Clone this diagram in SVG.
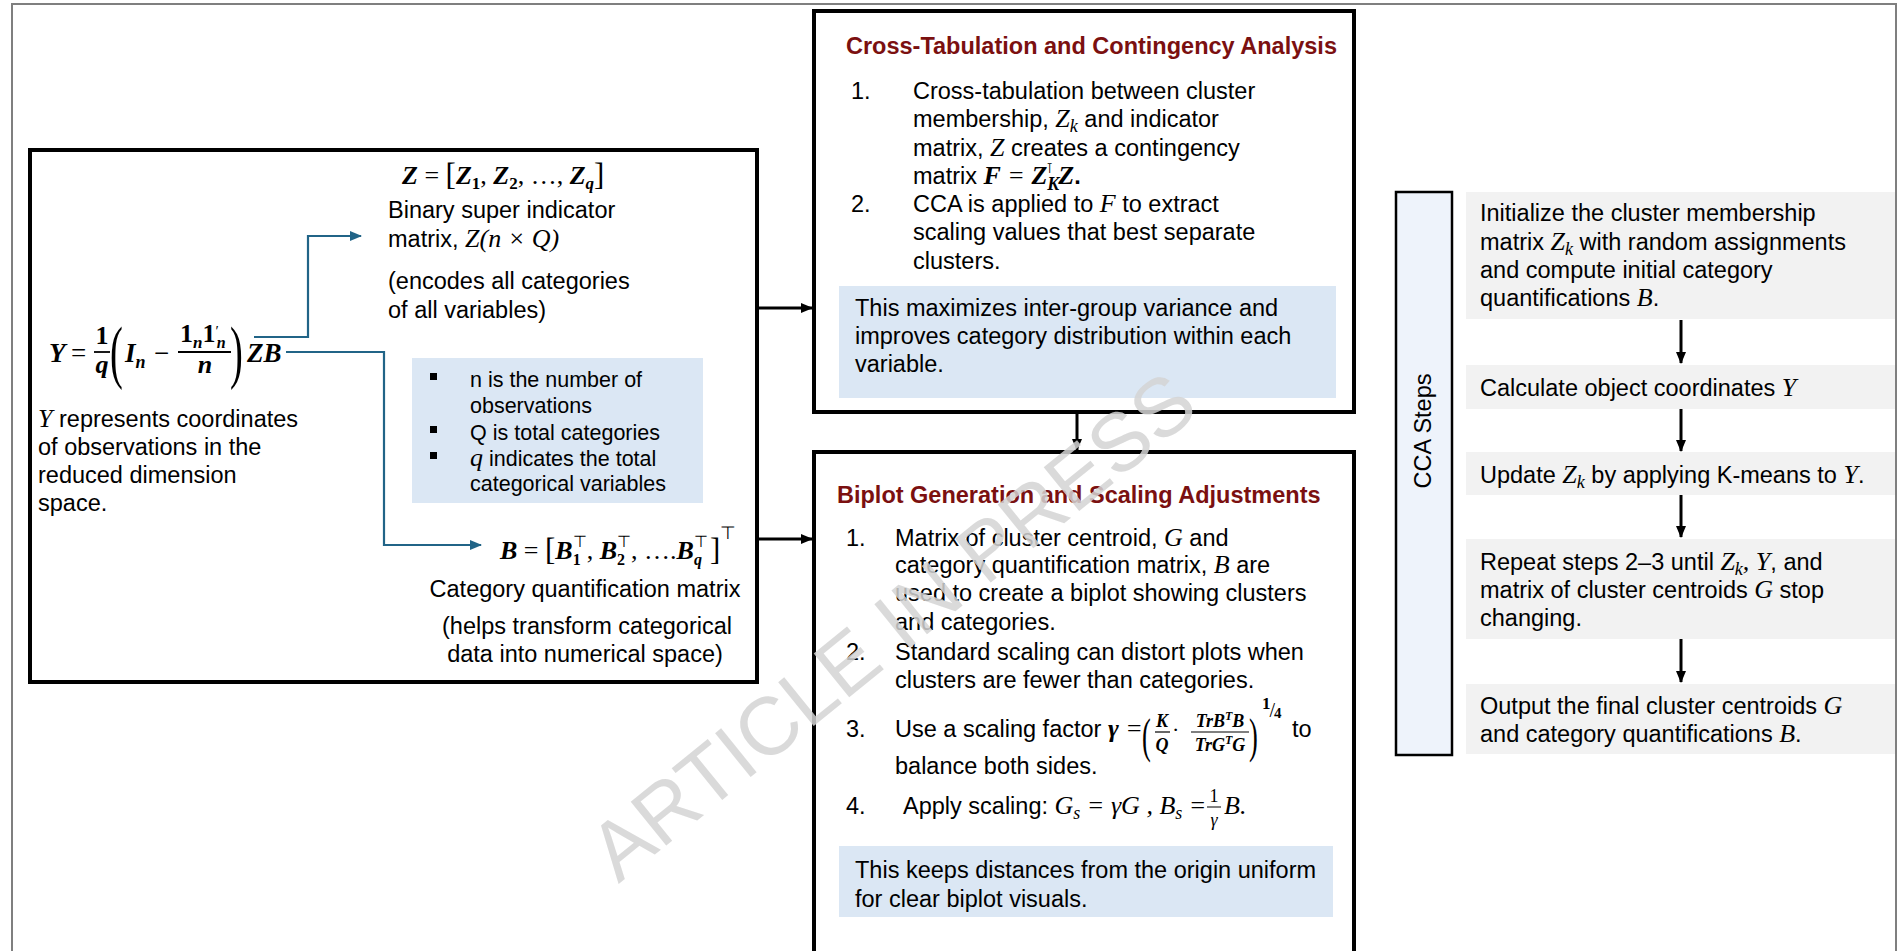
<svg xmlns="http://www.w3.org/2000/svg" width="1902" height="951" viewBox="0 0 1902 951">
<defs>
<style>
.t{font-family:"Liberation Sans",Arial,sans-serif;font-size:23.5px;fill:#000}
.b{font-size:21.5px}
.h{font-weight:bold;fill:#7b1010}
.m{font-family:"Liberation Serif","Times New Roman",serif;font-style:italic}
.mb{font-family:"Liberation Serif","Times New Roman",serif;font-style:italic;font-weight:bold}
.mr{font-family:"Liberation Serif","Times New Roman",serif;font-style:normal;font-weight:normal}
.mn{font-family:"Liberation Serif","Times New Roman",serif;font-style:normal;font-weight:bold}
.mi{font-family:"Liberation Serif","Times New Roman",serif;font-style:italic;font-size:26px}
.sub{font-size:18px}
.box{fill:#fff;stroke:#000;stroke-width:4}
.note{fill:#dbe7f4}
.step{fill:#f2f2f2}
.blk{stroke:#000;stroke-width:3;fill:none}
.blu{stroke:#216487;stroke-width:2.2;fill:none}
</style>
<marker id="ah" markerUnits="userSpaceOnUse" markerWidth="12" markerHeight="10" refX="11" refY="5" orient="auto"><path d="M0,0 L12,5 L0,10 z" fill="#000"/></marker>
<marker id="ahb" markerUnits="userSpaceOnUse" markerWidth="12" markerHeight="10" refX="11" refY="5" orient="auto"><path d="M0,0 L12,5 L0,10 z" fill="#216487"/></marker>
</defs>
<rect x="0" y="0" width="1902" height="951" fill="#fff"/>
<rect x="12" y="4" width="1884" height="980" fill="none" stroke="#7f7f7f" stroke-width="2"/>

<g id="node-left">
<rect x="30" y="150" width="727" height="532" class="box"/>
<g id="eq-y">
<text x="49" y="362" class="mb" font-size="27">Y</text>
<text x="71" y="362" class="mr" font-size="27">=</text>
<text class="mb" font-size="26" text-anchor="middle"><tspan x="102" y="344" class="mn">1</tspan><tspan x="102" y="373">q</tspan></text>
<line x1="94" y1="352" x2="110" y2="352" stroke="#000" stroke-width="1.8"/>
<text transform="translate(110,375) scale(0.55,1)" class="mr" font-size="70">(</text>
<text x="125" y="362" class="mb" font-size="27">I<tspan font-size="18" dy="6">n</tspan></text>
<text x="154" y="362" class="mr" font-size="27">−</text>
<text class="mb" font-size="26"><tspan x="180" y="342" class="mn">1</tspan><tspan font-size="17" dy="6">n</tspan><tspan class="mn" dy="-6">1</tspan><tspan class="mr" font-size="15" dy="-6">′</tspan><tspan font-size="16" dx="-2" dy="12">n</tspan><tspan x="205" y="373" text-anchor="middle">n</tspan></text>
<line x1="178" y1="352" x2="231" y2="352" stroke="#000" stroke-width="1.8"/>
<text transform="translate(230,375) scale(0.55,1)" class="mr" font-size="70">)</text>
<text x="247" y="362" class="mb" font-size="27">ZB</text>
</g>
<text class="t" x="38" y="427"><tspan class="mi">Y</tspan> represents coordinates</text>
<text class="t" x="38" y="455">of observations in the</text>
<text class="t" x="38" y="483">reduced dimension</text>
<text class="t" x="38" y="511">space.</text>

<text class="mb" x="402" y="184" font-size="26">Z<tspan class="mr"> = </tspan><tspan class="mr" font-size="31" dy="1">[</tspan><tspan dy="-1">Z</tspan><tspan class="mn" font-size="17" dy="5">1</tspan><tspan class="mr" dy="-5">, </tspan>Z<tspan class="mn" font-size="17" dy="5">2</tspan><tspan class="mr" dy="-5">, …, </tspan>Z<tspan font-size="17" dy="5">q</tspan><tspan class="mr" font-size="31" dy="-4">]</tspan></text>
<text class="t" x="388" y="218">Binary super indicator</text>
<text class="t" x="388" y="247">matrix, <tspan class="mi">Z</tspan><tspan class="mi" font-style="normal">(</tspan><tspan class="mi">n</tspan><tspan class="mi" font-style="normal"> × </tspan><tspan class="mi">Q</tspan><tspan class="mi" font-style="normal">)</tspan></text>
<text class="t" x="388" y="289">(encodes all categories</text>
<text class="t" x="388" y="318">of all variables)</text>

<rect x="412" y="358" width="291" height="145" class="note"/>
<g class="t b">
<rect x="430" y="373" width="7" height="7" fill="#000"/>
<text x="470" y="387">n is the number of</text>
<text x="470" y="413">observations</text>
<rect x="430" y="426" width="7" height="7" fill="#000"/>
<text x="470" y="440">Q is total categories</text>
<rect x="430" y="452" width="7" height="7" fill="#000"/>
<text x="470" y="466"><tspan class="mi" font-size="23">q</tspan> indicates the total</text>
<text x="470" y="491">categorical variables</text>
</g>

<text class="mb" x="500" y="559" font-size="26">B<tspan class="mr"> = </tspan><tspan class="mr" font-size="31" dy="1">[</tspan><tspan dy="-1">B</tspan><tspan class="mn" font-size="16" dy="6">1</tspan><tspan class="mr" font-size="16" dx="-8" dy="-18">⊤</tspan><tspan class="mr" dy="12">, </tspan>B<tspan class="mn" font-size="16" dy="6">2</tspan><tspan class="mr" font-size="16" dx="-8" dy="-18">⊤</tspan><tspan class="mr" dy="12">, ….</tspan>B<tspan font-size="16" dy="6">q</tspan><tspan class="mr" font-size="16" dx="-8" dy="-18">⊤</tspan><tspan class="mr" font-size="31" dx="2" dy="13">]</tspan><tspan class="mr" font-size="18" dy="-21">⊤</tspan></text>
<text class="t" x="585" y="597" text-anchor="middle">Category quantification matrix</text>
<text class="t" x="587" y="634" text-anchor="middle">(helps transform categorical</text>
<text class="t" x="585" y="662" text-anchor="middle">data into numerical space)</text>
</g>

<g id="node-crosstab">
<rect x="814" y="11" width="540" height="401" class="box"/>
<text class="t h" x="846" y="54">Cross-Tabulation and Contingency Analysis</text>
<g class="t">
<text x="851" y="99">1.</text>
<text x="913" y="99">Cross-tabulation between cluster</text>
<text x="913" y="127">membership, <tspan class="mi">Z</tspan><tspan class="mi sub" dy="5">k</tspan><tspan dy="-5"> and indicator</tspan></text>
<text x="913" y="156">matrix, <tspan class="mi">Z</tspan> creates a contingency</text>
<text x="913" y="184">matrix <tspan class="mi" font-weight="bold">F</tspan><tspan class="mi" font-style="normal"> = </tspan><tspan class="mi" font-weight="bold">Z</tspan><tspan class="mi sub" font-weight="bold" dy="6">K</tspan><tspan class="mr" font-size="14" dx="-13" dy="-17">⊺</tspan><tspan class="mi" font-weight="bold" dx="5" dy="11">Z</tspan><tspan font-weight="bold">.</tspan></text>
<text x="851" y="212">2.</text>
<text x="913" y="212">CCA is applied to <tspan class="mi">F</tspan> to extract</text>
<text x="913" y="240">scaling values that best separate</text>
<text x="913" y="269">clusters.</text>
</g>
<rect x="839" y="286" width="497" height="112" class="note"/>
<g class="t">
<text x="855" y="316">This maximizes inter-group variance and</text>
<text x="855" y="344">improves category distribution within each</text>
<text x="855" y="372">variable.</text>
</g>
</g>

<g id="node-biplot">
<rect x="814" y="452" width="540" height="540" class="box"/>
<text class="t h" x="837" y="503">Biplot Generation and Scaling Adjustments</text>
<g class="t">
<text x="846" y="546">1.</text>
<text x="895" y="546">Matrix of cluster centroid, <tspan class="mi">G</tspan>  and</text>
<text x="895" y="573">category quantification matrix, <tspan class="mi">B</tspan> are</text>
<text x="895" y="601">used to create a biplot showing clusters</text>
<text x="895" y="630">and categories.</text>
<text x="846" y="660">2.</text>
<text x="895" y="660">Standard scaling can distort plots when</text>
<text x="895" y="688">clusters are fewer than categories.</text>
<text x="846" y="737">3.</text>
<text x="895" y="737">Use a scaling factor <tspan class="mi" font-weight="bold">γ</tspan><tspan class="mi" font-style="normal"> =</tspan></text>
<text transform="translate(1142,752) scale(0.55,1)" class="mr" font-size="48">(</text>
<text class="mb" font-size="18" text-anchor="middle"><tspan x="1162" y="727">K</tspan><tspan x="1162" y="751">Q</tspan></text>
<line x1="1155" y1="732" x2="1170" y2="732" stroke="#000" stroke-width="1.2"/>
<text x="1172" y="737" class="mr" font-size="22">·</text>
<text class="mb" font-size="18" text-anchor="middle"><tspan x="1220" y="727">TrB<tspan font-size="12" dy="-7">T</tspan><tspan dy="7">B</tspan></tspan><tspan x="1220" y="751">TrG<tspan font-size="12" dy="-7">T</tspan><tspan dy="7">G</tspan></tspan></text>
<line x1="1191" y1="732" x2="1249" y2="732" stroke="#000" stroke-width="1.2"/>
<text transform="translate(1249,752) scale(0.55,1)" class="mr" font-size="48">)</text>
<text class="mn" font-size="17" x="1262" y="709">1<tspan class="mr" font-size="20" dx="-1" dy="8">/</tspan><tspan font-size="15" dx="-1" dy="1">4</tspan></text>
<text x="1292" y="737">to</text>
<text x="895" y="774">balance both sides.</text>
<text x="846" y="814">4.</text>
<text x="903" y="814">Apply scaling: <tspan class="mi">G</tspan><tspan class="mi sub" dy="5">s</tspan><tspan class="mi" font-style="normal" dy="-5"> = </tspan><tspan class="mi">γG</tspan><tspan class="mi" font-style="normal">  , </tspan><tspan class="mi">B</tspan><tspan class="mi sub" dy="5">s</tspan><tspan class="mi" font-style="normal" dy="-5"> = </tspan></text>
<text class="m" font-size="18" text-anchor="middle"><tspan x="1214" y="802" font-style="normal">1</tspan><tspan x="1214" y="826">γ</tspan></text>
<line x1="1207" y1="807" x2="1221" y2="807" stroke="#000" stroke-width="1"/>
<text x="1224" y="814"><tspan class="mi">B</tspan><tspan class="mi" font-style="normal">.</tspan></text>
</g>
<rect x="839" y="846" width="494" height="71" class="note"/>
<g class="t">
<text x="855" y="878">This keeps distances from the origin uniform</text>
<text x="855" y="907">for clear biplot visuals.</text>
</g>
</g>

<g id="node-cca-steps">
<rect x="1396" y="192" width="56" height="563" fill="#eef3fb" stroke="#000" stroke-width="2.5"/>
<text class="t" transform="translate(1431,431) rotate(-90)" text-anchor="middle">CCA Steps</text>
</g>
<g id="node-step1">
<rect x="1466" y="192" width="429" height="127" class="step"/>
<g class="t">
<text x="1480" y="221">Initialize the cluster membership</text>
<text x="1480" y="250">matrix <tspan class="mi">Z</tspan><tspan class="mi sub" dy="5">k</tspan><tspan dy="-5"> with random assignments</tspan></text>
<text x="1480" y="278">and compute initial category</text>
<text x="1480" y="306">quantifications <tspan class="mi">B</tspan>.</text>
</g>
</g>
<g id="node-step2">
<rect x="1466" y="365" width="429" height="44" class="step"/>
<text class="t" x="1480" y="396">Calculate object coordinates <tspan class="mi">Y</tspan></text>
</g>
<g id="node-step3">
<rect x="1466" y="452" width="429" height="43" class="step"/>
<text class="t" x="1480" y="483">Update <tspan class="mi">Z</tspan><tspan class="mi sub" dy="5">k</tspan><tspan dy="-5">  by applying K-means to </tspan><tspan class="mi">Y</tspan>.</text>
</g>
<g id="node-step4">
<rect x="1466" y="539" width="429" height="100" class="step"/>
<g class="t">
<text x="1480" y="570">Repeat steps 2–3 until <tspan class="mi">Z</tspan><tspan class="mi sub" dy="5">k</tspan><tspan class="mi" dy="-5">, Y</tspan>, and</text>
<text x="1480" y="598">matrix of cluster centroids <tspan class="mi">G</tspan> stop</text>
<text x="1480" y="626">changing.</text>
</g>
</g>
<g id="node-step5">
<rect x="1466" y="684" width="429" height="70" class="step"/>
<g class="t">
<text x="1480" y="714">Output the final cluster centroids <tspan class="mi">G</tspan></text>
<text x="1480" y="742">and category quantifications <tspan class="mi">B</tspan>.</text>
</g>
</g>

<g id="connectors">
<path class="blu" d="M254,337 H308 V236 H361" marker-end="url(#ahb)"/>
<path class="blu" d="M286,352 H384 V545 H481" marker-end="url(#ahb)"/>
<path class="blk" d="M757,308 H812" marker-end="url(#ah)"/>
<path class="blk" d="M757,539 H812" marker-end="url(#ah)"/>
<path class="blk" d="M1077,412 V450" marker-end="url(#ah)"/>
<path class="blk" d="M1681,320 V363" marker-end="url(#ah)"/>
<path class="blk" d="M1681,409 V451" marker-end="url(#ah)"/>
<path class="blk" d="M1681,495 V537" marker-end="url(#ah)"/>
<path class="blk" d="M1681,639 V682" marker-end="url(#ah)"/>
</g>

<text transform="translate(910,648) rotate(-39)" text-anchor="middle" font-family="Liberation Sans,Arial,sans-serif" font-size="82" fill="#d4d4d4" fill-opacity="0.85">ARTICLE IN PRESS</text>
</svg>
